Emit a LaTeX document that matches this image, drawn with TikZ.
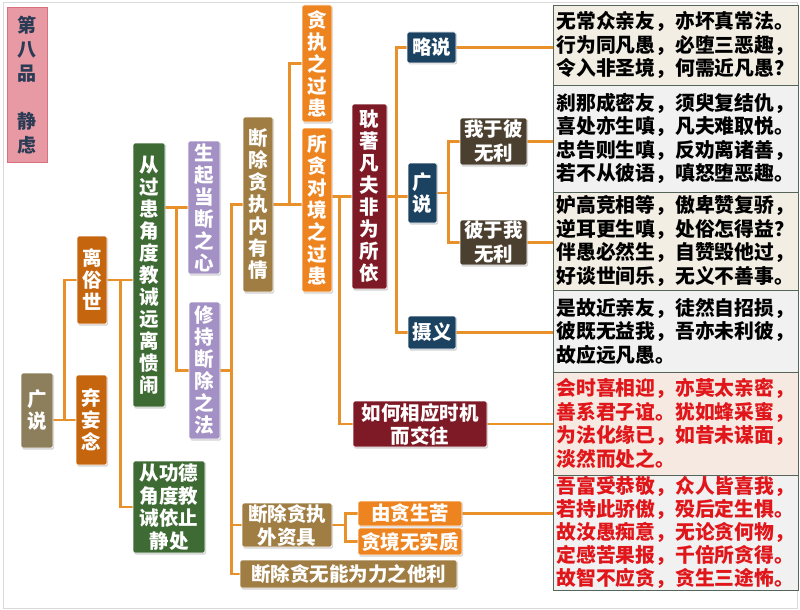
\documentclass[tikz,border=0pt]{standalone}
\usepackage{fontspec}
\setmainfont{Noto Sans CJK SC}
\usetikzlibrary{shadows,calc,backgrounds}
\definecolor{cPink}{HTML}{E89AA4}
\definecolor{cPinkB}{HTML}{D9707E}
\definecolor{cNavyT}{HTML}{2A3B55}
\definecolor{cOlive}{HTML}{8D7E5C}
\definecolor{cRust}{HTML}{C5650E}
\definecolor{cGreen}{HTML}{3E6B34}
\definecolor{cPurple}{HTML}{A390C4}
\definecolor{cGold}{HTML}{A07D43}
\definecolor{cOrange}{HTML}{EE8420}
\definecolor{cWine}{HTML}{7E1A26}
\definecolor{cNavy}{HTML}{1C4262}
\definecolor{cDark}{HTML}{4B4030}
\definecolor{cLine}{HTML}{E8902A}
\definecolor{cBeige}{HTML}{F3EEE4}
\definecolor{cGray}{HTML}{F1F1F1}
\definecolor{cRose}{HTML}{F5E9E1}
\definecolor{cBord}{HTML}{55655A}
\definecolor{cRed}{HTML}{E0161B}
\tikzset{
  bx/.style={rounded corners=1.5pt, draw=white, line width=0.8pt, text=white,
    font=\bfseries\fontsize{19.5}{22}\selectfont, inner sep=0pt, align=center,
    drop shadow={shadow xshift=1.2pt,shadow yshift=-1.5pt,opacity=0.35}},
  conn/.style={draw=cLine, line width=2.5pt},
  txt/.style={rectangle, draw=cBord, line width=0.9pt, inner sep=0pt,
    text width=238pt, align=left, minimum width=245pt,
    font=\bfseries\fontsize{19.8}{23.5}\selectfont},
}
\newcommand\bxn[7]{\node[bx,fill=#6,minimum width={(#4-#2)*1pt},minimum height={(#5-#3)*1pt}] (#1) at ({(#2+#4)/2},{(#3+#5)/2}) {#7};}
\newcommand\txn[6]{\node[txt,fill=#5,minimum height={(#4-#3)*1pt}] (#1) at (675.5,{(#3+#4)/2}) {#6};}
\begin{document}
\begin{tikzpicture}[x=1pt,y=-1pt]
\useasboundingbox (0,0) rectangle (800,610);
\draw[gray!30,line width=0.8pt] (3,2) rectangle (797,608);

% title
\node[rectangle,fill=cPink,draw=cPinkB,line width=1pt,minimum width=40pt,minimum height=154pt,inner sep=0pt,align=center,text=cNavyT,font=\bfseries\fontsize{19}{24}\selectfont] (title) at (27,85) {第\\八\\品\\[24pt]静\\虑};

% left part
\bxn{gs}{21}{373}{53}{448}{cOlive}{广\\说}
\bxn{lsh}{77}{236}{107}{324}{cRust}{离\\俗\\世}
\bxn{qwn}{76}{375}{107}{465}{cRust}{弃\\妄\\念}
\bxn{gh}{133}{143}{165}{407}{cGreen}{从\\过\\患\\角\\度\\教\\诫\\远\\离\\愦\\闹}
\node[bx,fill=cGreen,minimum width=72pt,minimum height=92pt,font=\bfseries\fontsize{19.5}{22.5}\selectfont] (gd) at (169,507) {从功德\\角度教\\诫依止\\静处};
\bxn{sq}{188}{141}{220}{274}{cPurple}{生\\起\\当\\断\\之\\心}
\bxn{xc}{189}{302}{220}{439}{cPurple}{修\\持\\断\\除\\之\\法}
\bxn{dnq}{243}{117}{273}{292}{cGold}{断\\除\\贪\\执\\内\\有\\情}
\bxn{tz}{302}{5}{332}{122}{cOrange}{贪\\执\\之\\过\\患}
\bxn{sgd}{302}{128}{332}{292}{cOrange}{所\\贪\\对\\境\\之\\过\\患}
\bxn{dz}{352}{104}{387}{289}{cWine}{耽\\著\\凡\\夫\\非\\为\\所\\依}
\bxn{ls}{407}{32}{456}{63}{cNavy}{略说}
\bxn{gs2}{408}{163}{437}{223}{cNavy}{广\\说}
\node[bx,fill=cDark,minimum width=67pt,minimum height=47pt,font=\bfseries\fontsize{19.5}{24}\selectfont] (wy) at (493.5,141.5) {我于彼\\无利};
\node[bx,fill=cDark,minimum width=67pt,minimum height=45pt,font=\bfseries\fontsize{19.5}{24}\selectfont] (by) at (493.5,242.5) {彼于我\\无利};
\bxn{sy}{408}{316}{456}{349}{cNavy}{摄义}
\node[bx,fill=cWine,minimum width=134pt,minimum height=46pt,font=\bfseries\fontsize{19.5}{23}\selectfont] (rh) at (420,424) {如何相应时机\\而交往};
\node[bx,fill=cGold,minimum width=90pt,minimum height=44pt,font=\bfseries\fontsize{19.5}{23}\selectfont] (dwz) at (287,525) {断除贪执\\外资具};
\bxn{ytk}{358}{501}{462}{526}{cOrange}{由贪生苦}
\bxn{tj}{358}{528}{462}{555}{cOrange}{贪境无实质}
\bxn{dwl}{240}{560}{457}{588}{cGold}{断除贪无能为力之他利}

% right text boxes
\txn{r1}{553}{5}{85}{cBeige}{无常众亲友，亦坏真常法。\\行为同凡愚，必堕三恶趣，\\令入非圣境，何需近凡愚？}
\txn{r2}{553}{85}{192}{cGray}{刹那成密友，须臾复结仇，\\喜处亦生嗔，凡夫难取悦。\\忠告则生嗔，反劝离诸善，\\若不从彼语，嗔怒堕恶趣。}
\txn{r3}{553}{192}{290}{cBeige}{妒高竞相等，傲卑赞复骄，\\逆耳更生嗔，处俗怎得益？\\伴愚必然生，自赞毁他过，\\好谈世间乐，无义不善事。}
\txn{r4}{553}{290}{372}{cGray}{是故近亲友，徒然自招损，\\彼既无益我，吾亦未利彼，\\故应远凡愚。}
\txn{r5}{553}{372}{475}{cRose}{\color{cRed}会时喜相迎，亦莫太亲密，\\善系君子谊。犹如蜂采蜜，\\为法化缘已，如昔未谋面，\\淡然而处之。}
\node[txt,fill=cGray,minimum height=115pt,font=\bfseries\fontsize{19.8}{22.8}\selectfont] (r6) at (675.5,532.5) {\color{cRed}吾富受恭敬，众人皆喜我，\\若持此骄傲，殁后定生惧。\\故汝愚痴意，无论贪何物，\\定感苦果报，千倍所贪得。\\故智不应贪，贪生三途怖。};

% connectors
\begin{scope}[on background layer]
\draw[conn] (lsh.west) -- ++(-12,0) |- (qwn.west);
\draw[conn] (gs.east |- qwn.west) -- (qwn.west);
\draw[conn] (lsh.east) -- (gh.west |- lsh.east);
\draw[conn] ($(lsh.east)+(13,0)$) |- (gd.west);
\draw[conn] (sq.west -| gh.east) -- (sq.west);
\draw[conn] ($(sq.west)+(-11,0)$) |- (xc.west);
\draw[conn] (xc.east) -- ++(11,0);
\draw[conn] (dnq.west) -- ++(-11,0) |- (dwl.west);
\draw[conn] ($(dnq.west)+(-11,0)$) |- (dwz.west);
\draw[conn] (dnq.east) -- (sgd.west |- dnq.east);
\draw[conn] ($(dnq.east)+(16,0)$) |- (tz.west);
\draw[conn] (dz.west -| sgd.east) -- (dz.west);
\draw[conn] ($(dz.west)+(-12,0)$) |- (rh.west);
\draw[conn] (dz.east) -- (gs2.west |- dz.east);
\draw[conn] (ls.west) -- ++(-10,0) |- (sy.west);
\draw[conn] (gs2.east) -- ++(12,0);
\draw[conn] (wy.west) -- ++(-11,0) |- (by.west);
\draw[conn] (ls.east) -- (ls.east -| r1.west);
\draw[conn] (wy.east) -- (wy.east -| r2.west);
\draw[conn] (by.east) -- (by.east -| r3.west);
\draw[conn] (sy.east) -- (sy.east -| r4.west);
\draw[conn] (rh.east) -- (rh.east -| r5.west);
\draw[conn] (ytk.east) -- (ytk.east -| r6.west);
\draw[conn] (dwz.east) -- ++(13,0);
\draw[conn] (ytk.west) -- ++(-12,0) |- (tj.west);
\end{scope}
\end{tikzpicture}
\end{document}
